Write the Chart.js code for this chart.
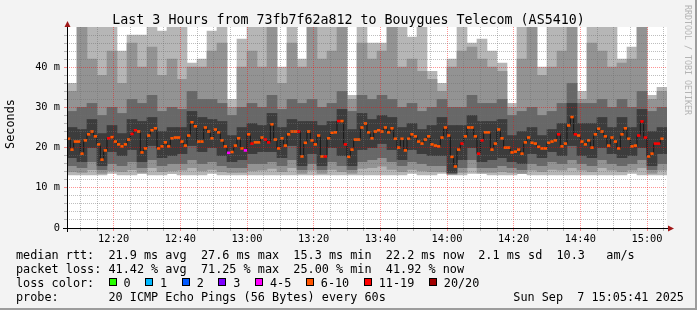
<!DOCTYPE html>
<html lang="en">
<head>
<meta charset="UTF-8">
<title>Last 3 Hours from 73fb7f62a812 to Bouygues Telecom (AS5410)</title>
<style>
  body { margin: 0; background: #f3f3f3; }
  canvas { display: block; }
</style>
</head>
<body>
<canvas id="chart" width="697" height="310"></canvas>
<script src="https://cdn.jsdelivr.net/npm/chart.js@4/dist/chart.umd.min.js"></script>
<script>
// time is in minutes after 12:00
const startMinute = 6;    // 12:06
const endMinute = 186;    // 15:06
const timeTicks = [20, 40, 60, 80, 100, 120, 140, 160, 180];
const timeLabels = ['12:20', '12:40', '13:00', '13:20', '13:40', '14:00', '14:20', '14:40', '15:00'];
const rttTicks = [0, 10, 20, 30, 40];
const rttLabels = ['0', '10 m', '20 m', '30 m', '40 m'];

// median rtt in ms, one value per minute starting 12:06
const medianRtt = [
  22.2, 19.5, 21.5, 21.5, 18.5, 21.8, 23.3, 24.0, 22.8, 20.8,
  17.0, 19.3, 22.3, 22.6, 21.5, 20.8, 20.3, 20.8, 22.0, 23.4,
  24.3, 24.0, 18.8, 19.8, 23.0, 24.3, 24.8, 19.8, 20.3, 21.3,
  20.3, 22.3, 22.5, 22.5, 21.5, 20.5, 23.0, 26.3, 25.3, 21.5,
  21.5, 25.0, 24.0, 22.3, 24.5, 23.8, 21.8, 20.3, 18.7, 18.9,
  20.5, 22.3, 19.8, 19.3, 23.3, 21.0, 21.3, 21.3, 22.5, 22.0,
  21.3, 25.8, 22.0, 19.8, 22.3, 20.5, 23.3, 24.0, 24.0, 24.0,
  17.8, 21.2, 24.0, 21.8, 20.8, 23.0, 17.8, 17.8, 22.3, 23.7,
  23.8, 26.6, 26.6, 20.8, 17.7, 19.5, 22.0, 22.0, 25.0, 26.0,
  23.8, 22.3, 24.0, 24.3, 24.0, 25.0, 23.8, 24.8, 22.2, 20.0,
  22.2, 19.3, 22.2, 23.3, 22.8, 21.5, 21.0, 22.0, 22.8, 20.8,
  20.5, 20.3, 22.5, 25.0, 23.0, 17.7, 15.3, 19.5, 21.0, 22.8,
  25.0, 25.0, 22.8, 18.5, 21.8, 23.8, 23.8, 19.5, 21.0, 24.5,
  22.3, 20.0, 20.0, 18.8, 19.0, 19.5, 18.5, 21.3, 22.5, 21.2,
  21.0, 20.2, 19.8, 19.8, 21.2, 21.5, 21.8, 23.3, 20.3, 21.0,
  25.5, 27.6, 23.3, 23.0, 21.5, 20.8, 21.8, 20.0, 23.3, 24.7,
  24.0, 22.8, 20.5, 22.5, 21.5, 19.8, 23.3, 24.8, 22.2, 20.3,
  20.5, 23.0, 26.5, 22.5, 17.8, 18.5, 21.0, 21.0, 22.2
];

// loss class of each median value (index into lossLabels)
const medianLoss = [
  5, 5, 5, 5, 5, 5, 5, 5, 5, 5, 5, 5, 6, 5, 5, 5, 5, 5, 5, 6,
  6, 5, 5, 5, 5, 5, 5, 5, 5, 5, 5, 5, 5, 5, 5, 5, 5, 5, 5, 5,
  5, 5, 5, 5, 5, 5, 5, 5, 4, 5, 5, 5, 5, 4, 5, 6, 5, 5, 5, 6,
  6, 5, 5, 5, 5, 5, 5, 5, 5, 6, 5, 5, 5, 5, 5, 5, 5, 6, 5, 5,
  5, 6, 5, 6, 5, 5, 5, 5, 5, 5, 5, 5, 5, 5, 5, 5, 5, 5, 5, 5,
  5, 5, 5, 5, 5, 5, 5, 5, 5, 5, 5, 5, 5, 5, 5, 5, 5, 5, 6, 5,
  5, 5, 5, 6, 6, 5, 5, 5, 5, 5, 5, 5, 5, 5, 5, 5, 5, 5, 5, 5,
  5, 5, 5, 5, 5, 5, 5, 6, 5, 5, 5, 5, 6, 5, 5, 5, 5, 5, 5, 5,
  5, 5, 5, 5, 5, 5, 5, 5, 5, 5, 5, 6, 6, 6, 5, 5, 6, 6, 5
];

const lossLabels = ['0', '1', '2', '3', '4-5', '6-10', '11-19', '20/20'];
const lossColors = ['#26ff00', '#00b8ff', '#0059ff', '#7e00ff', '#ff00ff', '#ff5500', '#ff0000', '#a10000'];

// smoke (spread of the pings), one value per 3 minutes starting 12:06
const smokeMin = [
  13.2, 13.2, 13.2, 13.2, 13.6, 13.2, 13.2, 13.5, 13.2, 13.2,
  13.5, 13.2, 13.2, 13.2, 13.6, 13.2, 13.2, 13.2, 13.2, 13.2,
  13.2, 13.2, 13.2, 13.2, 13.2, 13.2, 13.2, 13.2, 13.2, 13.2,
  13.2, 13.2, 13.2, 13.2, 13.6, 13.2, 13.2, 13.6, 13.2, 13.2,
  13.6, 13.5, 13.2, 13.2, 13.2, 13.5, 13.2, 13.2, 13.2, 13.2,
  13.2, 13.2, 13.2, 13.2, 13.2, 13.2, 13.6, 13.2, 13.2, 13.2
];
const smokeMax = [
  36, 50, 50, 50, 50, 44, 48, 48, 50, 49,
  50, 50, 41, 42, 49, 50, 32, 47, 50, 50,
  50, 40, 50, 42, 50, 50, 50, 50, 33, 50,
  46, 46, 50, 50, 47.5, 50, 39, 36, 42, 50,
  46, 47, 44, 41, 31, 50, 50, 40, 50, 50,
  50, 34, 50, 50, 50, 42, 45, 50, 33, 35
];
const smokeLo2 = [
  14, 13.8, 14.5, 13.6, 14.2, 14, 14.5, 13.8, 15, 14,
  14.2, 14.4, 15, 14.2, 14.6, 14, 13.8, 13.8, 14.2, 14.4,
  14.8, 14, 15, 13.6, 14.4, 13.6, 14.6, 14, 13.6, 14.8,
  15, 15.4, 14.6, 14, 14.6, 14.2, 14, 14, 13.3, 13.8,
  15, 13.8, 13.8, 14, 13.8, 13.6, 14.4, 14, 14.6, 14.4,
  15, 14.4, 14, 15, 14.4, 14, 14.4, 15, 13.6, 14.4
];
const smokeHi2 = [
  34, 50, 42, 38, 44, 36, 46, 40, 45, 38,
  42, 37, 40, 40, 44, 46, 30, 40, 44, 40,
  50, 36, 46, 40, 50, 42, 44, 50, 32, 46,
  42, 44, 50, 40, 42, 39, 37, 34, 40, 44,
  45, 42, 40, 39, 30, 42, 50, 38, 40, 44,
  50, 32, 46, 44, 40, 41, 42, 50, 32, 34
];
const smokeLo3 = [
  15.5, 15, 16.5, 14.5, 16, 15.5, 16.5, 15, 17, 15.5,
  16, 16, 17, 16, 16.5, 15.5, 15, 15, 16, 16,
  16.5, 15.5, 17, 14.5, 16, 14.5, 16.5, 15.5, 14.5, 16.5,
  17, 17.5, 16.5, 15.5, 16.5, 16, 15.5, 15.5, 13.5, 15,
  17, 15, 15, 15.5, 15, 14.5, 16, 15.5, 16.5, 16,
  17, 16, 15.5, 17, 16, 15.5, 16, 17, 14.5, 16
];
const smokeHi3 = [
  29, 30, 31, 28, 30, 28.5, 32, 31, 33, 29,
  30, 29.5, 34, 32, 32, 31, 28, 30, 31, 30,
  33, 29.5, 32, 31, 32, 30, 31, 34, 29, 33,
  32, 33, 32, 30, 31, 29, 30, 32, 30, 30,
  33, 31, 31, 32, 28, 29, 30, 28, 29, 31,
  36, 31, 31, 32, 30, 32, 30, 34, 29, 30
];
const coreLo = [
  17.5, 16.5, 20, 15.5, 19, 18, 19.5, 16.5, 20.5, 17.5,
  18, 18.5, 20.5, 19, 20, 18, 16.5, 17, 18.5, 19,
  19, 17.5, 20.5, 15.5, 18.5, 15.5, 20, 18, 15.5, 19.5,
  20, 21, 19.5, 17, 19.5, 18.5, 18, 18, 13.8, 17,
  20, 16.5, 17, 17.5, 16.5, 16, 18.5, 17.5, 19, 18,
  20.5, 18, 17.5, 20, 18.5, 17.5, 18, 20, 15.5, 18.5
];
const coreHi = [
  25, 24.5, 27, 23.5, 25.5, 23.5, 27, 26.5, 27.5, 24,
  25, 25, 29, 27.5, 27, 26.5, 23, 25, 26, 25.5,
  28.5, 25, 27, 26.5, 26.5, 25.5, 26.5, 29.5, 24.5, 28.5,
  27, 28, 27.5, 25, 26, 24.5, 25.5, 27.5, 25.5, 25.5,
  28, 26.5, 26.5, 27, 23, 24, 25, 23, 24.5, 26,
  31, 26, 26, 27.5, 25, 27.5, 25, 29.5, 24, 25
];

const titleText = 'Last 3 Hours from 73fb7f62a812 to Bouygues Telecom (AS5410)';
const legendRows = [
  'median rtt:  21.9 ms avg  27.6 ms max  15.3 ms min  22.2 ms now  2.1 ms sd  10.3   am/s',
  'packet loss: 41.42 % avg  71.25 % max  25.00 % min  41.92 % now',
  'loss color:',
  'probe:       20 ICMP Echo Pings (56 Bytes) every 60s'
];
const dateText = 'Sun Sep  7 15:05:41 2025';
const watermark = 'RRDTOOL / TOBI OETIKER';

const mono = '"DejaVu Sans Mono", "Liberation Mono", monospace';
const majorGrid = 'rgba(255, 0, 0, 0.42)';
const minorGrid = 'rgba(110, 110, 110, 0.45)';

function band(lo, hi) {
  return lo.map((v, j) => ({ x: startMinute + 1.5 + 3 * j, y: [v, hi[j]] }));
}
function smokeSet(lo, hi, color, order) {
  return {
    type: 'bar', data: band(lo, hi), backgroundColor: color, borderWidth: 0,
    grouped: false, barPercentage: 1, categoryPercentage: 1, order: order
  };
}

const frame = {
  id: 'frame',
  beforeDraw(chart) {
    const { ctx, chartArea: a } = chart;
    ctx.save();
    ctx.fillStyle = '#f3f3f3';
    ctx.fillRect(0, 0, chart.width, chart.height);
    ctx.fillStyle = '#ffffff';
    ctx.fillRect(a.left, a.top, a.right - a.left, a.bottom - a.top);
    ctx.restore();
  },
  afterDraw(chart) {
    const { ctx, chartArea: a } = chart;
    ctx.save();
    // axis lines and arrows
    ctx.strokeStyle = '#000';
    ctx.lineWidth = 1;
    ctx.beginPath();
    ctx.moveTo(63, a.bottom + 0.5);
    ctx.lineTo(a.right + 1, a.bottom + 0.5);
    ctx.moveTo(a.left + 0.5, a.bottom + 4);
    ctx.lineTo(a.left + 0.5, a.top - 1);
    ctx.stroke();
    ctx.fillStyle = '#a01818';
    ctx.beginPath();
    ctx.moveTo(a.right + 1, a.bottom - 2.5);
    ctx.lineTo(a.right + 7, a.bottom + 0.5);
    ctx.lineTo(a.right + 1, a.bottom + 3.5);
    ctx.fill();
    ctx.beginPath();
    ctx.moveTo(a.left - 2.5, a.top);
    ctx.lineTo(a.left + 0.5, a.top - 6);
    ctx.lineTo(a.left + 3.5, a.top);
    ctx.fill();

    // title
    ctx.fillStyle = '#000';
    ctx.font = '13.3px ' + mono;
    ctx.textAlign = 'center';
    ctx.textBaseline = 'alphabetic';
    ctx.fillText(titleText, 348.5, 23.5);

    // vertical unit label
    ctx.save();
    ctx.font = '11.82px ' + mono;
    ctx.translate(11, 124);
    ctx.rotate(-Math.PI / 2);
    ctx.textBaseline = 'middle';
    ctx.fillText('Seconds', 0, 0);
    ctx.restore();

    // legend
    ctx.font = '11.82px ' + mono;
    ctx.textAlign = 'left';
    const base = [258.5, 272.6, 286.6, 300.5];
    legendRows.forEach((row, k) => ctx.fillText(row, 16, base[k]));
    ctx.fillText(dateText, 513.3, base[3]);
    let bx = 108.5;
    lossLabels.forEach((lab, k) => {
      const x = Math.round(bx);
      ctx.fillStyle = lossColors[k];
      ctx.fillRect(x, 278, 8, 8);
      ctx.strokeStyle = '#000';
      ctx.strokeRect(x + 0.5, 278.5, 7, 7);
      ctx.fillStyle = '#000';
      ctx.fillText(lab, bx + 15, base[2]);
      bx += 15 + ctx.measureText(lab).width + 14.5;
    });

    // watermark
    ctx.save();
    ctx.font = '8.3px ' + mono;
    ctx.fillStyle = '#b4b4b4';
    ctx.translate(687, 5);
    ctx.rotate(Math.PI / 2);
    ctx.textBaseline = 'middle';
    ctx.fillText(watermark, 0, 0);
    ctx.restore();

    // outer frame
    ctx.fillStyle = '#9c9c9c';
    ctx.fillRect(chart.width - 2, 0, 2, chart.height);
    ctx.fillRect(0, chart.height - 2, chart.width, 2);
    ctx.restore();
  }
};

new Chart(document.getElementById('chart'), {
  type: 'bar',
  data: {
    datasets: [
      {
        type: 'line',
        data: medianRtt.map((v, i) => ({ x: startMinute + 0.5 + i, y: v })),
        stepped: 'middle',
        borderColor: '#161616',
        borderWidth: 1,
        pointStyle: 'line',
        pointRadius: 1.67,
        pointBorderWidth: 2.6,
        pointBorderColor: medianLoss.map(k => lossColors[k]),
        fill: false,
        order: 1
      },
      smokeSet(coreLo, coreHi, '#3c3c3c', 2),
      smokeSet(smokeLo3, smokeHi3, '#686868', 3),
      smokeSet(smokeLo2, smokeHi2, '#939393', 4),
      smokeSet(smokeMin, smokeMax, '#b6b6b6', 5)
    ]
  },
  options: {
    responsive: false,
    animation: false,
    devicePixelRatio: 1,
    events: [],
    layout: { padding: { left: 0, right: 30, top: 27, bottom: 0 } },
    plugins: {
      legend: { display: false },
      title: { display: false },
      tooltip: { enabled: false }
    },
    scales: {
      x: {
        type: 'linear',
        min: startMinute,
        max: endMinute,
        offset: false,
        bounds: 'data',
        afterBuildTicks: s => {
          const t = [];
          for (let m = 10; m < endMinute; m += 5) t.push({ value: m });
          s.ticks = t;
        },
        afterFit: s => { s.height = 82; },
        grid: {
          z: 1,
          offset: false,
          tickLength: 3,
          color: c => timeTicks.includes(c.tick.value) ? majorGrid : minorGrid
        },
        border: { display: false, dash: [1, 1] },
        ticks: {
          autoSkip: false,
          maxRotation: 0,
          minRotation: 0,
          padding: 2,
          color: '#000',
          font: { family: mono, size: 10.34 },
          callback: v => {
            const k = timeTicks.indexOf(v);
            return k >= 0 ? timeLabels[k] : '';
          }
        }
      },
      y: {
        min: 0,
        max: 50,
        afterFit: s => { s.width = 67; },
        grid: {
          z: 1,
          tickLength: 3,
          color: c => {
            const v = c.tick.value;
            if (v === 0 || v === 50) return 'rgba(0,0,0,0)';
            return rttTicks.includes(v) ? majorGrid : minorGrid;
          }
        },
        border: { display: false, dash: [1, 1] },
        ticks: {
          stepSize: 2,
          autoSkip: false,
          padding: 4,
          color: '#000',
          font: { family: mono, size: 10.34 },
          callback: v => {
            const k = rttTicks.indexOf(v);
            return k >= 0 ? rttLabels[k] : '';
          }
        }
      }
    }
  },
  plugins: [frame]
});
</script>
</body>
</html>
